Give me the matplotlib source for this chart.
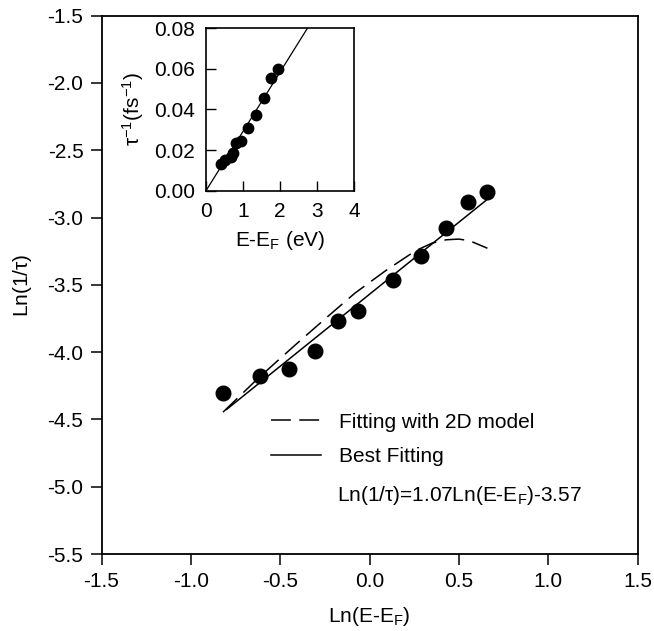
import matplotlib
matplotlib.use("Agg")
import matplotlib.pyplot as plt
import numpy as np

plt.rcParams['font.family'] = ['Liberation Sans', 'DejaVu Sans']
plt.rcParams['mathtext.fontset'] = 'custom'
plt.rcParams['mathtext.rm'] = 'Liberation Sans'
plt.rcParams['mathtext.it'] = 'Liberation Sans:italic'
plt.rcParams['mathtext.default'] = 'regular'

# ---- data: main panel (log-log) ----
ln_E = [-0.822, -0.612, -0.450, -0.306, -0.176, -0.067, 0.129, 0.287, 0.427, 0.551, 0.658]
ln_rate = [-4.305, -4.180, -4.127, -3.989, -3.768, -3.694, -3.464, -3.283, -3.080, -2.884, -2.810]

# 2D model curve (dashed)
model_x = [-0.82, -0.62, -0.42, -0.255, -0.081, 0.089, 0.257, 0.35, 0.43, 0.50, 0.56, 0.66]
model_y = [-4.446, -4.19, -3.952, -3.76, -3.561, -3.396, -3.247, -3.19, -3.165, -3.160, -3.172, -3.228]

# best fit: Ln(1/tau) = 1.07 Ln(E-EF) - 3.57
fit_slope = 1.07
fit_intercept = -3.57
fit_x = [-0.80, 0.67]

# ---- data: inset (linear) ----
inset_E = [0.41, 0.52, 0.67, 0.74, 0.82, 0.95, 1.13, 1.35, 1.56, 1.76, 1.95]
inset_rate = [0.0132, 0.0151, 0.0167, 0.0184, 0.0233, 0.0246, 0.031, 0.0373, 0.0455, 0.0555, 0.0601]
inset_fit_x = [0.0, 2.74]
inset_fit_y = [0.0, 0.08]

main_xticks = [-1.5, -1.0, -0.5, 0.0, 0.5, 1.0, 1.5]
main_yticks = [-5.5, -5.0, -4.5, -4.0, -3.5, -3.0, -2.5, -2.0, -1.5]
inset_xticks = [0, 1, 2, 3, 4]
inset_yticks = [0.00, 0.02, 0.04, 0.06, 0.08]

W, H = 654, 631
fig = plt.figure(figsize=(W / 100, H / 100), dpi=100)

def frac(l, r, t, b):
    return [l / W, 1 - b / H, (r - l) / W, (b - t) / H]

FS = 15
ax = fig.add_axes(frac(101.5, 637.5, 15.7, 554))
ax.plot(ln_E, ln_rate, 'o', color='black', markersize=10.5, zorder=3)
ax.plot(model_x, model_y, color='black', lw=1.1, dashes=(13, 5.5),
        label='Fitting with 2D model')
fx = np.array(fit_x)
ax.plot(fx, fit_slope * fx + fit_intercept, color='black', lw=1.1,
        label='Best Fitting')
ax.set_xlim(-1.5, 1.5)
ax.set_ylim(-5.5, -1.5)
ax.set_xticks(main_xticks)
ax.set_yticks(main_yticks)
ax.set_xticklabels([f"{v:.1f}" for v in main_xticks])
ax.set_yticklabels([f"{v:.1f}" for v in main_yticks])
ax.tick_params(direction='out', length=8, width=1.1, labelsize=FS, pad=5,
               top=False, right=False)
for s in ax.spines.values():
    s.set_linewidth(1.3)
ax.set_xlabel(r'Ln(E-E$_F$)', fontsize=FS, labelpad=10)
ax.set_ylabel(r'Ln(1/$\tau$)', fontsize=FS, labelpad=10)

leg = ax.legend(loc='center left', bbox_to_anchor=(0.3157, 0.2129), frameon=False,
                fontsize=FS, handlelength=2.4, handletextpad=0.9,
                labelspacing=0.75, borderpad=0.0, borderaxespad=0.0)
ax.text(0.439, 0.108, r'Ln(1/$\tau$)=1.07Ln(E-E$_F$)-3.57', transform=ax.transAxes,
        fontsize=FS, ha='left', va='center')

# inset
axi = fig.add_axes(frac(206, 354, 28.3, 190.7))
axi.plot(inset_E, inset_rate, 'o', color='black', markersize=7.5, zorder=3)
axi.plot(inset_fit_x, inset_fit_y, color='black', lw=0.9)
axi.set_xlim(0, 4)
axi.set_ylim(0, 0.08)
axi.set_xticks(inset_xticks)
axi.set_yticks(inset_yticks)
axi.set_xticklabels([str(v) for v in inset_xticks])
axi.set_yticklabels([f"{v:.2f}" for v in inset_yticks])
axi.tick_params(direction='in', length=7, width=1.0, labelsize=FS, pad=8,
                top=False, right=False)
for s in axi.spines.values():
    s.set_linewidth(1.2)
axi.set_xlabel(r'E-E$_F$ (eV)', fontsize=FS, labelpad=6)
axi.set_ylabel(r'$\tau^{-1}$(fs$^{-1}$)', fontsize=FS, labelpad=6)

fig.savefig('out.png', dpi=100)
